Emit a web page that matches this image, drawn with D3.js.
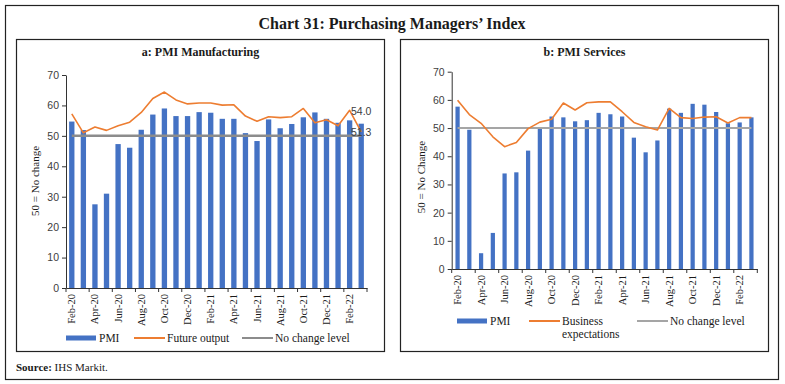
<!DOCTYPE html>
<html>
<head>
<meta charset="utf-8">
<script src="https://cdn.jsdelivr.net/npm/d3@7"></script>
<style>
  html, body { margin: 0; padding: 0; background: #fff; }
  svg { display: block; }
</style>
</head>
<body>
<svg id="chart" width="785" height="384"></svg>
<script>
// ---------- DATA ----------
const months = ["Feb-20","Mar-20","Apr-20","May-20","Jun-20","Jul-20","Aug-20","Sep-20","Oct-20","Nov-20","Dec-20","Jan-21",
  "Feb-21","Mar-21","Apr-21","May-21","Jun-21","Jul-21","Aug-21","Sep-21","Oct-21","Nov-21","Dec-21","Jan-22","Feb-22","Mar-22"];
const tickLabels = ["Feb-20","Apr-20","Jun-20","Aug-20","Oct-20","Dec-20","Feb-21","Apr-21","Jun-21","Aug-21","Oct-21","Dec-21","Feb-22"];
const yTicks = [0,10,20,30,40,50,60,70];

const mfgPMI = [54.7,51.9,27.5,31.0,47.3,46.1,52.0,57.0,59.0,56.5,56.5,57.8,57.6,55.6,55.6,50.9,48.3,55.4,52.5,53.9,56.1,57.7,55.6,54.3,55.1,54.0];
const mfgFuture = [57.2,51.0,52.9,51.8,53.3,54.5,57.7,62.3,64.4,61.8,60.5,60.8,60.8,60.1,60.2,56.5,54.8,56.3,56.0,56.3,59.0,54.3,55.3,53.3,58.4,51.3];
const svcPMI = [57.6,49.4,5.6,12.8,33.9,34.3,42.0,49.9,54.1,53.8,52.4,52.8,55.4,54.9,54.1,46.6,41.4,45.6,56.9,55.4,58.6,58.3,55.7,51.7,52.0,53.8];
const svcExpect = [59.9,54.8,51.7,46.9,43.4,44.9,49.8,52.1,53.1,58.9,56.4,59.0,59.3,59.3,55.8,52.0,50.5,49.3,57.0,53.7,53.4,53.9,54.0,51.8,53.7,53.7];
const noChange = 50;

// ---------- STYLE ----------
const BLUE = "#4472C4", ORANGE = "#ED7D31";
const SERIF = "'Liberation Serif', 'Times New Roman', serif";
const SANS = "'Liberation Sans', Arial, sans-serif";

const svg = d3.select("#chart");

// outer frame
svg.append("rect").attr("x", 5.5).attr("y", 5.5).attr("width", 773).attr("height", 374)
  .attr("fill", "none").attr("stroke", "#222").attr("stroke-width", 1.2);

svg.append("text").attr("x", 392).attr("y", 28.5).attr("text-anchor", "middle")
  .attr("font-family", SERIF).attr("font-size", 16).attr("font-weight", "bold").attr("fill", "#1a1a1a")
  .text("Chart 31: Purchasing Managers\u2019 Index");

svg.append("text").attr("x", 16).attr("y", 371).attr("font-family", SERIF).attr("font-size", 11).attr("fill", "#1a1a1a")
  .call(t => {
    t.append("tspan").attr("font-weight", "bold").text("Source:");
    t.append("tspan").text(" IHS Markit.");
  });

function panel(cfg) {
  const g = svg.append("g");
  g.append("rect").attr("x", cfg.box[0]).attr("y", cfg.box[1]).attr("width", cfg.box[2]).attr("height", cfg.box[3])
    .attr("fill", "none").attr("stroke", "#222").attr("stroke-width", 1.2);
  g.append("text").attr("x", cfg.box[0] + cfg.box[2] / 2).attr("y", cfg.box[1] + 16.5).attr("text-anchor", "middle")
    .attr("font-family", SERIF).attr("font-size", 12).attr("font-weight", "bold").attr("fill", "#1a1a1a")
    .text(cfg.title);

  const x = d3.scaleBand().domain(months).range([cfg.x0, cfg.x1]).padding(0);
  const y = d3.scaleLinear().domain([0, 70]).range([cfg.y0, cfg.y70]);
  const bw = x.bandwidth();
  const cx = m => x(m) + bw / 2;

  // bars
  g.append("g").selectAll("rect").data(cfg.bars).join("rect")
    .attr("x", (d, i) => cx(months[i]) - bw * cfg.barRatio / 2)
    .attr("width", bw * cfg.barRatio)
    .attr("y", d => y(d))
    .attr("height", d => y(0) - y(d))
    .attr("fill", BLUE);

  // no change line
  const line = d3.line().x((d, i) => cx(months[i])).y(d => y(d));
  g.append("path").datum(months.map(() => noChange)).attr("d", line)
    .attr("fill", "none").attr("stroke", cfg.grayColor).attr("stroke-width", cfg.grayWidth);

  // orange line
  g.append("path").datum(cfg.line).attr("d", line)
    .attr("fill", "none").attr("stroke", ORANGE).attr("stroke-width", 1.6).attr("stroke-linejoin", "round");

  // y axis
  const ya = g.append("g").attr("transform", `translate(${cfg.x0},0)`)
    .call(d3.axisLeft(y).tickValues(yTicks).tickSize(4).tickSizeOuter(0).tickPadding(3));
  ya.select(".domain").attr("stroke", "#333");
  ya.selectAll(".tick line").attr("stroke", "#333");
  ya.selectAll("text").attr("font-family", SANS).attr("font-size", 10.5).attr("fill", "#404040");

  // x axis with labels at every other month
  const xa = g.append("g").attr("transform", `translate(0,${cfg.y0})`)
    .call(d3.axisBottom(x).tickValues(tickLabels).tickSize(0).tickSizeOuter(0).tickPadding(0));
  xa.select(".domain").attr("stroke", "#333");
  xa.selectAll(".tick text")
    .attr("font-family", SERIF).attr("font-size", 10.5).attr("fill", "#1a1a1a")
    .attr("text-anchor", "end").attr("dy", null)
    .attr("transform", "translate(3.5,6) rotate(-90)");
  // boundary tick marks every two months
  const bounds = tickLabels.map(m => x(m)).concat([cfg.x1]);
  xa.selectAll("line.bt").data(bounds).join("line").attr("class", "bt")
    .attr("x1", d => d).attr("x2", d => d).attr("y1", 0).attr("y2", 4).attr("stroke", "#333");

  // y title
  g.append("text").attr("transform", `translate(${cfg.ylabX},${cfg.ylabY}) rotate(-90)`)
    .attr("text-anchor", "middle").attr("font-family", SERIF).attr("font-size", 11).attr("fill", "#1a1a1a")
    .text(cfg.ylab);

  // legend
  const L = cfg.legend;
  g.append("rect").attr("x", L.pmi[0]).attr("y", L.pmi[1] - 2.5).attr("width", 30).attr("height", 5).attr("fill", BLUE);
  g.append("text").attr("x", L.pmi[0] + 33).attr("y", L.pmi[1] + 4).attr("font-family", SERIF).attr("font-size", 11.5)
    .attr("fill", "#1a1a1a").text("PMI");
  g.append("line").attr("x1", L.line[0]).attr("x2", L.line[0] + 31).attr("y1", L.line[1]).attr("y2", L.line[1])
    .attr("stroke", ORANGE).attr("stroke-width", 2);
  const lt = g.append("text").attr("x", L.line[0] + 33).attr("y", L.line[1] + 4).attr("font-family", SERIF).attr("font-size", 11.5)
    .attr("fill", "#1a1a1a");
  cfg.lineName.forEach((s, i) => lt.append("tspan").attr("x", L.line[0] + 33).attr("dy", i ? 12.5 : 0).text(s));
  g.append("line").attr("x1", L.gray[0]).attr("x2", L.gray[0] + 31).attr("y1", L.gray[1]).attr("y2", L.gray[1])
    .attr("stroke", cfg.grayColor).attr("stroke-width", 2);
  g.append("text").attr("x", L.gray[0] + 33).attr("y", L.gray[1] + 4).attr("font-family", SERIF).attr("font-size", 11.5)
    .attr("fill", "#1a1a1a").text("No change level");

  return { g, x, y, cx };
}

const left = panel({
  box: [16.5, 39.5, 368, 312], title: "a: PMI Manufacturing",
  x0: 66, x1: 367, y0: 288, y70: 75, barRatio: 0.46,
  bars: mfgPMI, line: mfgFuture, grayColor: "#8c8c8c", grayWidth: 2.5,
  ylab: "50 = No change", ylabX: 39, ylabY: 181,
  lineName: ["Future output"],
  legend: { pmi: [66, 338], line: [134, 338], gray: [242, 338] }
});

const right = panel({
  box: [400.5, 39.5, 368, 312], title: "b: PMI Services",
  x0: 451.7, x1: 757.3, y0: 269, y70: 71.7, barRatio: 0.36,
  bars: svcPMI, line: svcExpect, grayColor: "#a5a5a5", grayWidth: 2,
  ylab: "50 = No Change", ylabX: 425, ylabY: 177,
  lineName: ["Business", "expectations"],
  legend: { pmi: [457, 321], line: [529, 321], gray: [637, 321] }
});

// data labels on last point of manufacturing panel
const lastM = months[months.length - 1];
left.g.append("text").attr("x", left.cx(lastM)).attr("y", 114.5).attr("text-anchor", "middle")
  .attr("font-family", SANS).attr("font-size", 10.5).attr("fill", "#404040").text(mfgPMI[mfgPMI.length - 1].toFixed(1));
left.g.append("text").attr("x", left.cx(lastM)).attr("y", left.y(mfgFuture[mfgFuture.length - 1]) + 4)
  .attr("text-anchor", "middle")
  .attr("font-family", SANS).attr("font-size", 10.5).attr("fill", "#404040").text(mfgFuture[mfgFuture.length - 1].toFixed(1));
</script>
</body>
</html>
